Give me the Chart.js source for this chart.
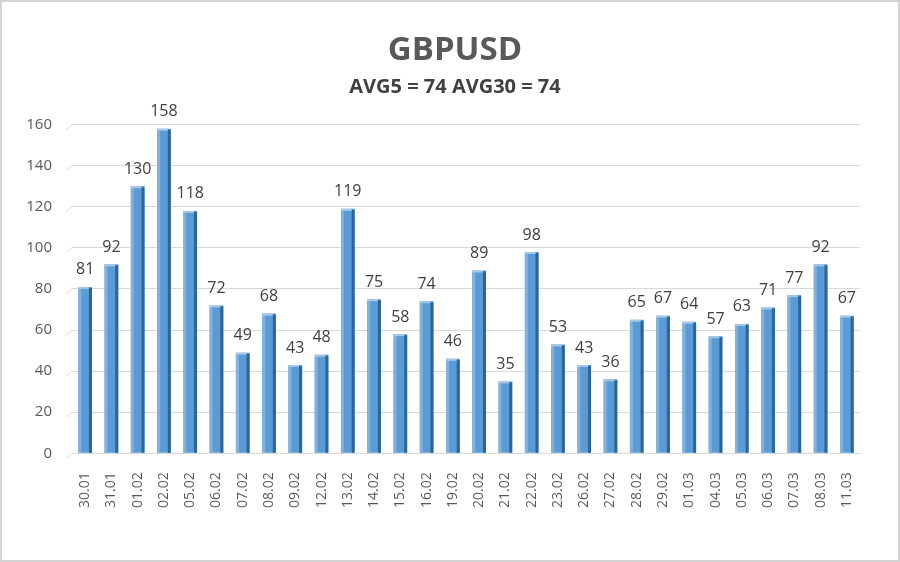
<!DOCTYPE html>
<html>
<head>
<meta charset="utf-8">
<script src="https://cdn.jsdelivr.net/npm/chart.js@4"></script>
<style>
  html, body { margin: 0; padding: 0; background: #fff; }
  #wrap { width: 900px; height: 562px; position: relative; }
</style>
</head>
<body>
<div id="wrap"><canvas id="grafico" width="900" height="562"></canvas></div>
<script>
const dias = ['30.01', '31.01', '01.02', '02.02', '05.02', '06.02', '07.02', '08.02', '09.02', '12.02',
    '13.02', '14.02', '15.02', '16.02', '19.02', '20.02', '21.02', '22.02', '23.02', '26.02',
    '27.02', '28.02', '29.02', '01.03', '04.03', '05.03', '06.03', '07.03', '08.03', '11.03'];
const valores = [81, 92, 130, 158, 118, 72, 49, 68, 43, 48,
    119, 75, 58, 74, 46, 89, 35, 98, 53, 43,
    36, 65, 67, 64, 57, 63, 71, 77, 92, 67];
const titulo = 'GBPUSD';
const subtitulo = 'AVG5 = 74 AVG30 = 74';

// moldura cinza em volta da imagem
const moldura = {
    id: 'moldura',
    beforeDraw(chart) {
        const ctx = chart.ctx;
        ctx.save();
        ctx.fillStyle = '#ffffff';
        ctx.fillRect(0, 0, chart.width, chart.height);
        ctx.strokeStyle = '#d4d4d4';
        ctx.lineWidth = 2;
        ctx.strokeRect(1, 1, chart.width - 2, chart.height - 2);
        ctx.restore();
    }
};

// pequenas diagonais à esquerda das linhas de grade (efeito 3D)
const diagonais = {
    id: 'diagonais',
    beforeDatasetsDraw(chart) {
        const ctx = chart.ctx;
        const y = chart.scales.y;
        const left = chart.chartArea.left;
        ctx.save();
        ctx.strokeStyle = '#d9d9d9';
        ctx.lineWidth = 1;
        y.ticks.forEach(t => {
            const py = y.getPixelForValue(t.value);
            ctx.beginPath();
            ctx.moveTo(left - 6, py + 5);
            ctx.lineTo(left, py);
            ctx.stroke();
        });
        ctx.restore();
    }
};

// lateral escura das barras + rótulos de valor
const barras3d = {
    id: 'barras3d',
    afterDatasetsDraw(chart) {
        const ctx = chart.ctx;
        const meta = chart.getDatasetMeta(0);
        ctx.save();
        meta.data.forEach((bar, i) => {
            const w = bar.width;
            const left = bar.x - w / 2;
            const right = bar.x + w / 2;
            ctx.fillStyle = '#7db3e3';
            ctx.fillRect(left, bar.y + 1, 3, bar.base - bar.y - 1);
            ctx.fillStyle = '#2e6595';
            ctx.fillRect(right - 3, bar.y + 1, 3, bar.base - bar.y - 1);
            ctx.fillStyle = '#a6c9e8';
            ctx.fillRect(left, bar.y, w - 3, 2);
            ctx.fillStyle = '#404040';
            ctx.font = '16px "Open Sans", sans-serif';
            ctx.textAlign = 'center';
            ctx.textBaseline = 'bottom';
            ctx.fillText(valores[i], bar.x, bar.y - 9);
        });
        ctx.restore();
    }
};

new Chart(document.getElementById('grafico'), {
    type: 'bar',
    data: {
        labels: dias,
        datasets: [{
            data: valores,
            backgroundColor: '#5b9bd5',
            borderWidth: 0,
            barPercentage: 0.52,
            categoryPercentage: 1.0
        }]
    },
    options: {
        responsive: false,
        animation: false,
        layout: {
            padding: { left: 10, right: 0, top: 0, bottom: 43 }
        },
        plugins: {
            legend: { display: false },
            tooltip: { enabled: false },
            title: {
                display: true,
                text: titulo,
                color: '#595959',
                font: { family: '"Open Sans", sans-serif', size: 33, weight: 'bold' },
                padding: { top: 31, bottom: 5 }
            },
            subtitle: {
                display: true,
                text: subtitulo,
                color: '#404040',
                font: { family: '"Open Sans", sans-serif', size: 20, weight: 'bold' },
                padding: { top: 0, bottom: 25 }
            }
        },
        scales: {
            x: {
                grid: { display: false },
                border: { color: '#d9d9d9' },
                ticks: {
                    color: '#595959',
                    font: { family: '"Open Sans", sans-serif', size: 14 },
                    minRotation: 90,
                    maxRotation: 90,
                    autoSkip: false,
                    padding: 11
                }
            },
            y: {
                min: 0,
                max: 160,
                ticks: {
                    stepSize: 20,
                    color: '#595959',
                    font: { family: '"Open Sans", sans-serif', size: 15 },
                    padding: 20
                },
                grid: { color: '#d9d9d9', drawTicks: false },
                border: { display: false },
                afterFit(scale) { scale.width = 62; }
            },
            y2: {
                position: 'right',
                min: 0,
                max: 160,
                grid: { display: false },
                border: { display: false },
                ticks: { display: false },
                afterFit(scale) { scale.width = 40; }
            }
        }
    },
    plugins: [moldura, diagonais, barras3d]
});
</script>
</body>
</html>
